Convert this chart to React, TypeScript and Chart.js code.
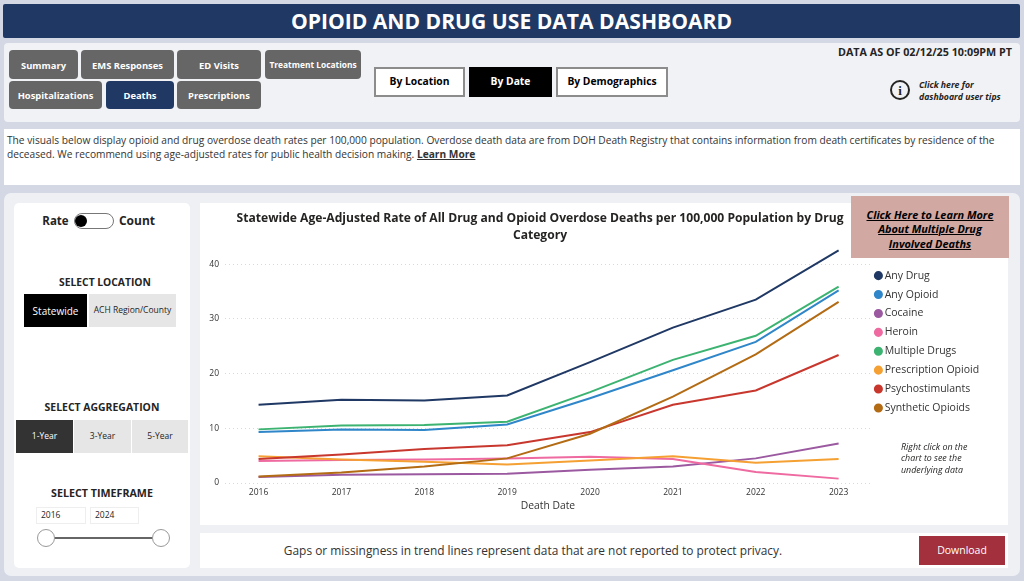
import React, { useEffect, useRef } from "react";
import { Chart, registerables } from "chart.js";

Chart.register(...registerables);

const years = [2016, 2017, 2018, 2019, 2020, 2021, 2022, 2023];
const yTicks = [0, 10, 20, 30, 40];
const anyDrug = [14.3, 15.2, 15.1, 16.0, 22.1, 28.4, 33.5, 42.5];
const anyOpioid = [9.3, 9.8, 9.7, 10.7, 15.5, 20.6, 25.8, 35.2];
const cocaine = [1.1, 1.5, 1.6, 1.7, 2.4, 3.0, 4.5, 7.2];
const heroin = [4.0, 4.2, 4.3, 4.5, 4.8, 4.4, 2.0, 0.8];
const multipleDrugs = [9.8, 10.5, 10.6, 11.2, 16.6, 22.5, 26.9, 35.9];
const prescriptionOpioid = [4.9, 4.3, 3.9, 3.4, 4.1, 4.9, 3.7, 4.4];
const psychostimulants = [4.4, 5.2, 6.2, 6.9, 9.3, 14.3, 16.9, 23.4];
const syntheticOpioids = [1.2, 1.9, 3.0, 4.5, 9.0, 15.8, 23.5, 33.1];

const seriesNames = ["Any Drug", "Any Opioid", "Cocaine", "Heroin", "Multiple Drugs", "Prescription Opioid", "Psychostimulants", "Synthetic Opioids"];
const seriesValues = [anyDrug, anyOpioid, cocaine, heroin, multipleDrugs, prescriptionOpioid, psychostimulants, syntheticOpioids];
const seriesColors = ["#1f3864", "#2f86c9", "#9b59a0", "#ee6aa0", "#3cb371", "#f5a033", "#c8372d", "#b36b14"];

const titleLines = ["Statewide Age-Adjusted Rate of All Drug and Opioid Overdose Deaths per 100,000 Population by Drug", "Category"];
const FONT = '"Open Sans", "Noto Sans", sans-serif';

const placeBlocks = {
  id: "placeBlocks",
  afterLayout(chart: any) {
    if (chart.titleBlock) {
      chart.titleBlock.left = 0;
      chart.titleBlock.right = 680;
    }
    if (chart.legend) {
      chart.legend.left = 669;
      chart.legend.right = 808;
      chart.legend.top = 59;
      chart.legend.bottom = 322;
    }
  },
};

type BoxProps = { x: number; y: number; w: number; h: number; bg?: string; color?: string; size?: number; bold?: boolean; italic?: boolean; radius?: number; border?: string; align?: string; children?: any; extra?: any };

function Box({ x, y, w, h, bg, color = "#252423", size = 11, bold, italic, radius, border, align = "center", children, extra }: BoxProps) {
  return (
    <div
      style={{
        position: "absolute", left: x, top: y, width: w, height: h, boxSizing: "border-box",
        background: bg, color, fontSize: size, fontWeight: bold ? 700 : 400, fontStyle: italic ? "italic" : "normal",
        borderRadius: radius, border, display: "flex", alignItems: "center",
        justifyContent: align === "center" ? "center" : align === "right" ? "flex-end" : "flex-start",
        whiteSpace: "pre", lineHeight: 1, ...extra,
      }}
    >
      {children}
    </div>
  );
}

const Tab = (p: { x: number; y: number; w: number; h: number; label: string; active?: boolean; size?: number }) => (
  <Box x={p.x} y={p.y} w={p.w} h={p.h} bg={p.active ? "#1f3864" : "#666666"} color="#fff" size={p.size ?? 9.4} bold radius={4} extra={{ paddingTop: 2 }}>{p.label}</Box>
);

export default function App() {
  const ref = useRef<HTMLCanvasElement | null>(null);
  useEffect(() => {
    document.body.style.margin = "0";
    document.body.style.overflow = "hidden";
    const chart = new Chart(ref.current!, {
      type: "line",
      data: {
        datasets: seriesNames.map((name, i) => ({
          label: name,
          data: years.map((yr, j) => ({ x: yr, y: seriesValues[i][j] })),
          borderColor: seriesColors[i],
          backgroundColor: seriesColors[i],
          borderWidth: 2,
          pointRadius: 0,
          tension: 0,
          order: seriesNames.length - i,
        })),
      },
      plugins: [placeBlocks],
      options: {
        animation: false,
        responsive: false,
        events: [],
        layout: { padding: { left: 0, right: 17, top: 0, bottom: 0 } },
        plugins: {
          title: {
            display: true,
            text: titleLines,
            color: "#252423",
            font: { family: FONT, size: 12.1, weight: "bold", lineHeight: 1.4 },
            padding: { top: 7, bottom: 0 },
          },
          legend: {
            display: true,
            position: "right",
            align: "start",
            labels: {
              usePointStyle: true,
              pointStyle: "circle",
              boxWidth: 2,
              boxHeight: 5,
              padding: 8.4,
              color: "#333",
              font: { family: FONT, size: 10.5 },
              sort: (a: any, b: any) => a.datasetIndex - b.datasetIndex,
            },
          },
          tooltip: { enabled: false },
        },
        scales: {
          x: {
            type: "linear",
            min: 2015.595,
            max: 2023.39,
            afterBuildTicks: (a: any) => { a.ticks = years.map((v) => ({ value: v })); },
            afterFit: (a: any) => { a.height = 42; },
            grid: { display: false, drawTicks: false },
            border: { display: false },
            ticks: {
              autoSkip: false, maxRotation: 0, padding: 4, color: "#333",
              font: { family: FONT, size: 8.5 },
              callback: (v: any) => String(v),
            },
            title: { display: true, text: "Death Date", color: "#333", font: { family: FONT, size: 10.3 }, padding: { top: 4, bottom: 13 } },
          },
          y: {
            type: "linear",
            min: 0,
            max: 43.7,
            afterBuildTicks: (a: any) => { a.ticks = yTicks.map((v) => ({ value: v })); },
            afterFit: (a: any) => { a.width = 25; },
            grid: { color: "#d9d9d9", drawTicks: false, lineWidth: 1 },
            border: { display: false, dash: [1, 3] },
            ticks: { padding: 6, color: "#333", font: { family: FONT, size: 8.5 } },
          },
        },
      } as any,
    } as any);
    return () => chart.destroy();
  }, []);

  const btnText = { paddingBottom: 2 };

  return (
    <div style={{ position: "relative", width: 1024, height: 581, overflow: "hidden", background: "#d3d8e4", fontFamily: FONT }}>
      <Box x={3} y={4} w={1017} h={34} bg="#1f3864" color="#fff" size={21.1} bold radius={2}>OPIOID AND DRUG USE DATA DASHBOARD</Box>

      <Box x={4} y={43} w={1016} h={79} bg="#f1f2f5" radius={4} />
      <Tab x={9} y={50} w={69} h={29} label="Summary" />
      <Tab x={81} y={50} w={93} h={29} label="EMS Responses" />
      <Tab x={177} y={50} w={84} h={29} label="ED Visits" />
      <Tab x={265} y={50} w={96} h={29} label="Treatment Locations" size={8.4} />
      <Tab x={9} y={81} w={93} h={28} label="Hospitalizations" />
      <Tab x={106} y={81} w={68} h={28} label="Deaths" active />
      <Tab x={177} y={81} w={84} h={28} label="Prescriptions" />

      <Box x={374} y={67} w={91} h={30} bg="#fff" color="#000" size={10.3} bold border="2px solid #8c8c8c" extra={btnText}>By Location</Box>
      <Box x={469} y={67} w={83} h={30} bg="#000" color="#fff" size={10.3} bold extra={btnText}>By Date</Box>
      <Box x={556} y={67} w={112} h={30} bg="#fff" color="#000" size={10.3} bold border="2px solid #8c8c8c" extra={btnText}>By Demographics</Box>

      <Box x={760} y={44} w={252} h={17} size={10.75} bold align="right">DATA AS OF 02/12/25 10:09PM PT</Box>
      <Box x={890} y={80} w={20} h={20} radius={10} border="2px solid #252423" size={13} bold extra={{ fontFamily: "'Liberation Serif', serif" }}>i</Box>
      <Box x={919} y={79} w={100} h={13} size={8.7} bold italic align="left">Click here for</Box>
      <Box x={919} y={91} w={100} h={13} size={8.7} bold italic align="left">dashboard user tips</Box>

      <Box x={4} y={129} w={1016} h={56} bg="#fff" />
      <Box x={7} y={133} w={1010} h={15} size={10.2} align="left" color="#333">
        <span>The visuals below display opioid and drug overdose death rates per 100,000 population. Overdose death data are from DOH Death Registry that contains information from death certificates by residence of the</span>
      </Box>
      <Box x={7} y={147} w={1010} h={15} size={10.2} align="left" color="#333">
        <span>deceased. We recommend using age-adjusted rates for public health decision making. </span>
        <span style={{ fontWeight: 700, textDecoration: "underline" }}>Learn More</span>
      </Box>

      <Box x={4} y={193} w={1016} h={383} bg="#eef0f3" radius={7} />
      <Box x={14} y={203} w={176} h={365} bg="#fff" radius={5} />

      <Box x={37.5} y={213} w={36} h={16} size={11.5} bold>Rate</Box>
      <Box x={74} y={213} w={40} h={16} bg="#fff" radius={8} border="1.5px solid #777" />
      <Box x={75} y={215} w={12} h={12} bg="#000" radius={6} />
      <Box x={117} y={213} w={40} h={16} size={12} bold>Count</Box>

      <Box x={25} y={274} w={160} h={16} size={10.3} bold>SELECT LOCATION</Box>
      <Box x={24} y={294} w={63} h={33} bg="#000" color="#fff" size={10}>Statewide</Box>
      <Box x={89} y={294} w={87} h={33} bg="#e6e6e6" size={8.5}>ACH Region/County</Box>

      <Box x={22} y={399.5} w={160} h={16} size={10.45} bold>SELECT AGGREGATION</Box>
      <Box x={16} y={420} w={57} h={33} bg="#333" color="#fff" size={8.5}>1-Year</Box>
      <Box x={74} y={420} w={57} h={33} bg="#e6e6e6" size={8.5}>3-Year</Box>
      <Box x={132} y={420} w={56} h={33} bg="#e6e6e6" size={8.5}>5-Year</Box>

      <Box x={22} y={485} w={160} h={16} size={10.7} bold>SELECT TIMEFRAME</Box>
      <Box x={36} y={507} w={50} h={17} bg="#fff" size={8.5} border="1px solid #eee" align="left" extra={{ paddingLeft: 4 }}>2016</Box>
      <Box x={90} y={507} w={49} h={17} bg="#fff" size={8.5} border="1px solid #eee" align="left" extra={{ paddingLeft: 4 }}>2024</Box>
      <Box x={46} y={537} w={115} h={2} bg="#666" />
      <Box x={37} y={529} w={18} h={18} bg="#fff" radius={9} border="1.5px solid #999" />
      <Box x={152} y={529} w={18} h={18} bg="#fff" radius={9} border="1.5px solid #999" />

      <Box x={200} y={203} w={808} h={322} bg="#fff" />
      <canvas ref={ref} width={808} height={322} style={{ position: "absolute", left: 200, top: 203, width: 808, height: 322 }} />

      <Box x={851} y={196} w={158} h={62} bg="#d2a8a3" color="#000" size={10.9} bold italic extra={{ flexDirection: "column", gap: 3.6, paddingTop: 5 }}>
        <span style={{ textDecoration: "underline" }}>Click Here to Learn More</span>
        <span style={{ textDecoration: "underline" }}>About Multiple Drug</span>
        <span style={{ textDecoration: "underline" }}>Involved Deaths</span>
      </Box>

      <Box x={901} y={441} w={100} h={12} size={8.9} italic align="left">Right click on the</Box>
      <Box x={901} y={452} w={100} h={12} size={8.9} italic align="left">chart to see the</Box>
      <Box x={901} y={464} w={100} h={12} size={8.9} italic align="left">underlying data</Box>

      <Box x={200} y={533} w={808} h={35} bg="#fff" />
      <Box x={200} y={542} w={666} h={18} size={11.9} color="#333">Gaps or missingness in trend lines represent data that are not reported to protect privacy.</Box>
      <Box x={919} y={536} w={86} h={29} bg="#a3303d" color="#fff" size={10.5}>Download</Box>
    </div>
  );
}
